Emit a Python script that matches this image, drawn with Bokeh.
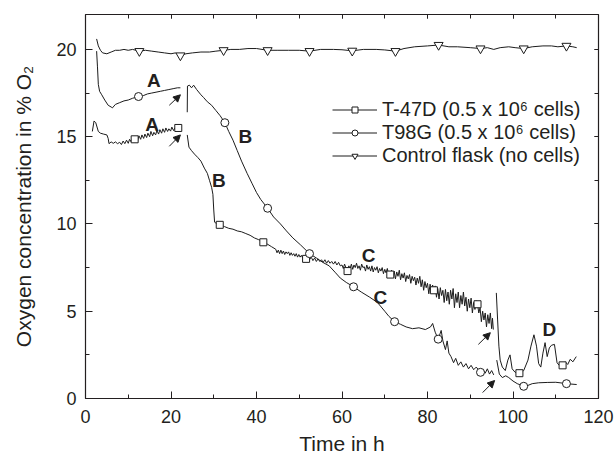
from bokeh.plotting import figure
from bokeh.models import (LinearAxis, Range1d, Legend, LegendItem, Label, Arrow,
                          NormalHead, FixedTicker, CustomJSTickFormatter)
from bokeh.embed import file_html
from bokeh.resources import INLINE

nan = float("nan")

# ---------------- data ----------------
# T-47D (0.5 x 10^6 cells) - line (NaN = gap where medium was changed)
t47_x = [1.6, 2.0, 2.4, 3.0, 3.5, 4.2, 5.0, 5.3, 5.5, 6.0, 6.5, 7.0, 7.5, 8.0, 8.4, 8.8, 9.2, 9.6, 10.0, 10.3,
         10.7, 11.0, 11.5, 11.8, 12.2, 12.5, 12.9, 13.2, 13.6, 13.9, 14.3, 14.6, 15.0, 15.3, 15.7, 16.0,
         16.4, 16.7, 17.1, 17.4, 17.8, 18.1, 18.5, 18.8, 19.2, 19.5, 19.9, 20.2, 20.6, 20.9, 21.3, 21.7,
         nan,
         23.8, 24.2, 24.8, 25.5, 26.3, 27.0, 27.8, 28.5, 29.0, 29.5, 29.8, 30.0, 30.2, 30.8, 31.4, 32.5,
         33.5, 34.5, 35.5, 36.5, 37.5, 38.5, 39.5, 40.5, 41.6, 42.5, 43.5, 44.5, 44.8, 45.1, 45.4, 45.7,
         46.0, 46.3, 46.6, 46.9, 47.2, 47.5, 47.8, 48.1, 48.4, 48.7, 49.0, 49.3, 49.6, 49.9, 50.2, 50.5,
         50.8, 51.1, 51.6, 52.0, 52.4, 52.8, 53.2, 53.6, 54.0, 54.4, 54.8, 55.2, 55.6, 56.0, 56.4, 56.8,
         57.2, 57.6, 58.0, 58.4, 58.8, 59.2, 59.6,
         60.0, 60.3, 60.6, 60.9, 61.3, 61.6, 61.9, 62.2, 62.5, 62.8, 63.1, 63.4, 63.7, 64.0, 64.3, 64.6,
         64.9, 65.2, 65.5, 65.8, 66.1, 66.4, 66.7, 67.0, 67.3, 67.6, 67.9, 68.2, 68.5, 68.8, 69.1, 69.4,
         69.7, 70.0, 70.3, 70.6, 70.9, 71.3, 71.6, 71.9, 72.2, 72.5, 72.8, 73.1, 73.4, 73.7, 74.0, 74.3,
         74.6, 74.9, 75.2, 75.5, 75.8, 76.1, 76.4, 76.7, 77.0, 77.3, 77.6, 77.9, 78.2, 78.5, 78.8, 79.1,
         79.4, 79.7, 80.0, 80.3, 80.6, 80.9, 81.2, 81.5, 81.8, 82.1, 82.4, 82.7, 83.0, 83.3, 83.6, 83.9,
         84.2, 84.5, 84.8, 85.1, 85.4, 85.7, 86.0, 86.3, 86.6, 86.9, 87.2, 87.5, 87.8, 88.1, 88.4, 88.7,
         89.0, 89.3, 89.6, 89.9, 90.2, 90.5, 90.8, 91.1, 91.4, 91.7, 92.0, 92.3, 92.6, 92.9, 93.2, 93.5,
         93.8, 94.1, 94.4, 94.7, 95.0, 95.2, 95.4,
         nan,
         96.1, 96.4, 96.7, 97.0, 97.5, 98.2, 98.8, 99.3, 99.8, 100.5, 101.5, 102.5, 103.5, 104.2, 104.9,
         105.5, 106.0, 106.5, 107.0, 107.5, 108.0, 108.5, 109.0, 109.7, 110.3, 110.8, 111.6, 112.2,
         112.8, 113.4, 114.0, 114.8]
t47_y = [15.3, 15.9, 15.8, 15.3, 15.2, 15.15, 15.1, 14.9, 14.6, 14.7, 14.62, 14.7, 14.6, 14.68, 14.55, 14.75,
         14.6, 14.8, 14.62, 14.85, 14.7, 14.9, 14.82, 14.95, 14.78, 15.05, 14.85, 15.1, 14.9, 15.15, 14.95,
         15.2, 15.0, 15.3, 15.05, 15.25, 15.1, 15.35, 15.15, 15.4, 15.2, 15.45, 15.25, 15.5, 15.3, 15.45,
         15.32, 15.55, 15.35, 15.5, 15.4, 15.5,
         nan,
         15.1, 14.4, 14.2, 14.0, 13.8, 13.6, 13.2, 12.9, 12.5, 12.1, 11.7, 10.8, 10.1, 10.0, 9.95, 9.85,
         9.75, 9.7, 9.6, 9.55, 9.45, 9.35, 9.2, 9.1, 9.0, 8.85, 8.7, 8.55, 8.35, 8.5, 8.3, 8.5,
         8.3, 8.45, 8.25, 8.4, 8.3, 8.4, 8.2, 8.35, 8.2, 8.3, 8.15, 8.3, 8.1, 8.25, 8.1, 8.2,
         8.05, 8.15, 8.0, 8.1, 7.95, 8.1, 7.9, 8.05, 7.85, 8.0, 7.85, 7.95, 7.8, 7.95, 7.75, 7.9,
         7.75, 7.85, 7.7, 7.85, 7.65, 7.8, 7.6,
         7.65, 7.45, 7.7, 7.5, 7.35, 7.6, 7.45, 7.7, 7.4, 7.65, 7.5, 7.75, 7.45, 7.6, 7.35, 7.7,
         7.5, 7.55, 7.3, 7.65, 7.4, 7.55, 7.3, 7.6, 7.25, 7.5, 7.35, 7.55, 7.2, 7.45, 7.3, 7.5,
         7.15, 7.4, 7.2, 7.45, 7.1, 7.1, 7.35, 6.95, 7.3, 6.85, 7.25, 7.0, 7.35, 6.8, 7.15, 6.9,
         7.2, 6.7, 7.05, 6.85, 7.1, 6.6, 7.0, 6.75, 6.95, 6.5, 6.9, 6.6, 7.0, 6.4, 6.8, 6.2,
         6.7, 6.35, 6.6, 6.0, 6.55, 6.25, 6.5, 6.2, 6.45, 5.8, 6.3, 5.7, 6.35, 5.9, 6.2, 5.5,
         6.25, 5.6, 6.1, 5.4, 6.2, 5.7, 6.3, 5.2, 6.0, 5.5, 6.1, 5.2, 5.9, 5.4, 6.1, 5.3,
         5.8, 5.0, 5.7, 5.2, 5.75, 4.9, 5.5, 5.1, 5.6, 5.4, 4.9, 5.2, 4.4, 5.0, 4.5, 4.9,
         4.1, 4.8, 4.3, 4.9, 4.0, 4.6, 3.95,
         nan,
         6.05, 4.5, 3.0, 2.2, 1.8, 1.6, 2.2, 2.5, 1.7, 1.5, 1.43, 1.6, 2.2, 3.0, 3.65, 3.0, 2.0, 1.8,
         2.6, 3.2, 2.4, 2.9, 3.05, 3.1, 2.05, 1.9, 1.9, 2.1, 1.95, 2.25, 2.1, 2.4]
t47_mx = [11.5, 21.7, 31.4, 41.6, 51.6, 61.3, 71.3, 81.5, 91.7, 101.5, 111.6]
t47_my = [14.85, 15.5, 9.95, 8.95, 8.0, 7.3, 7.1, 6.2, 5.4, 1.45, 1.9]

# T98G (0.5 x 10^6 cells)
t98_x = [2.6, 2.8, 3.0, 3.3, 3.8, 4.5, 5.3, 6.0, 6.3, 7.0, 8.0, 9.0, 10.0, 11.0, 12.4, 13.5, 14.5, 15.5,
         16.5, 17.5, 18.5, 19.5, 20.5, 21.5, 22.2,
         nan,
         23.8, 23.85, 24.3, 24.8, 25.3, 26.0, 27.0, 27.6, 28.5, 29.5, 30.5, 31.5, 32.6, 33.5, 34.5, 35.5,
         36.5, 37.8, 39.0, 40.0, 41.0, 42.6, 44.0, 45.6, 47.0, 48.5, 50.3, 52.4, 54.0, 55.5, 57.0, 58.5,
         59.6, 61.0, 62.7, 64.5, 66.5, 68.3, 70.0, 71.0, 72.3, 73.7, 75.0, 76.5, 78.0, 79.5, 80.7, 81.2,
         81.8, 82.5, 83.2, 83.6, 84.2, 84.6, 85.0, 85.5, 86.1, 86.6, 87.2, 87.8, 88.4, 89.0, 89.6, 90.2,
         90.8, 91.4, 92.4, 93.0, 93.5, 94.0, 94.5, 95.0, 95.5,
         nan,
         96.2, 96.8, 97.5, 98.3, 99.0, 100.0, 101.0, 102.5, 103.5, 104.5, 106.0, 108.0, 110.0, 111.0,
         112.5, 114.9]
t98_y = [19.9, 19.0, 18.0, 17.6, 17.4, 17.1, 16.8, 16.7, 16.65, 16.85, 16.95, 17.05, 17.1, 17.2, 17.3,
         17.35, 17.45, 17.5, 17.55, 17.6, 17.65, 17.7, 17.75, 17.8, 17.8,
         nan,
         16.4, 17.9, 17.95, 17.8, 17.95, 17.7, 17.4, 17.25, 17.0, 16.8, 16.5, 16.2, 15.8, 15.3, 14.8,
         14.2, 13.6, 12.9, 12.3, 11.8, 11.4, 10.9, 10.4, 10.0, 9.6, 9.2, 8.8, 8.3, 8.05, 7.8, 7.6, 7.2,
         6.9, 6.65, 6.4, 6.1, 5.8, 5.5, 5.0, 4.7, 4.4, 4.25, 4.1, 4.0, 4.05, 3.95, 4.1, 4.3, 3.8, 3.4,
         3.9, 3.3, 2.8, 3.3, 2.6, 2.4, 2.05, 2.3, 1.9, 2.1, 1.8, 2.0, 1.7, 1.9, 1.65, 1.8, 1.5, 1.65, 1.45,
         1.7, 1.4, 1.6, 1.35,
         nan,
         2.2, 1.4, 1.2, 1.3, 1.2, 1.0, 0.85, 0.7, 0.75, 0.85, 0.9, 0.92, 0.93, 0.9, 0.85, 0.8]
t98_mx = [12.4, 32.6, 42.6, 52.4, 62.7, 72.3, 82.5, 92.4, 102.5, 112.5]
t98_my = [17.3, 15.8, 10.9, 8.3, 6.4, 4.4, 3.4, 1.5, 0.7, 0.85]

# Control flask (no cells)
ctl_x = [2.6, 3.0, 3.5, 4.0, 5.0, 6.0, 7.0, 8.0, 9.0, 10.0, 11.0, 12.6, 14.0, 15.5, 17.0, 18.5, 20.0, 21.0,
         22.2, 23.5, 25.0, 27.0, 29.0, 30.5, 32.3, 34.0, 36.0, 38.0, 40.0, 42.6, 45.0, 47.5, 50.0, 52.4,
         55.0, 58.0, 60.0, 62.4, 65.0, 68.0, 70.0, 72.5, 74.5, 77.0, 80.0, 82.6, 85.0, 87.0, 90.0, 92.4,
         94.0, 95.5, 97.0, 99.0, 100.5, 102.5, 104.5, 107.0, 109.0, 110.5, 112.5, 114.0, 114.9]
ctl_y = [20.6, 20.2, 19.95, 19.8, 19.75, 19.85, 19.95, 19.95, 20.0, 19.95, 20.0, 19.9, 19.95, 19.9, 19.85,
         19.8, 19.75, 19.8, 19.65, 19.75, 19.8, 19.85, 19.85, 19.9, 19.95, 20.0, 20.0, 20.05, 20.05, 19.95,
         19.95, 19.95, 19.95, 19.9, 20.0, 20.0, 19.98, 19.92, 20.0, 20.0, 19.97, 19.9, 20.05, 20.15, 20.2,
         20.25, 20.15, 20.15, 20.1, 20.05, 20.1, 20.0, 20.1, 20.15, 20.1, 20.05, 20.15, 20.2, 20.2, 20.15,
         20.2, 20.15, 20.1]
ctl_mx = [12.6, 22.2, 32.3, 42.6, 52.4, 62.4, 72.5, 82.6, 92.4, 102.5, 112.5]
ctl_my = [19.9, 19.65, 19.95, 19.95, 19.9, 19.92, 19.9, 20.25, 20.05, 20.05, 20.2]

series_names = ["T-47D (0.5 x 10\u2076 cells)", "T98G (0.5 x 10\u2076 cells)", "Control flask (no cells)"]

# phase labels and arrows (medium changes)
phase_text = ["A", "A", "B", "B", "C", "C", "D"]
phase_x = [16.0, 15.6, 37.4, 31.2, 66.2, 69.0, 108.5]
phase_y = [18.2, 15.7, 15.0, 12.5, 8.2, 5.8, 3.95]
arrow_x0 = [19.6, 19.6, 91.9, 92.9]
arrow_y0 = [16.8, 14.45, 3.1, 0.34]
arrow_x1 = [22.2, 22.2, 94.7, 95.7]
arrow_y1 = [17.4, 15.1, 3.77, 1.03]

x_ticks = [0, 20, 40, 60, 80, 100, 120]
x_minor = [0, 10, 20, 30, 40, 50, 60, 70, 80, 90, 100, 110, 120]
y_ticks = [0, 5, 10, 15, 20]
y_minor = [0, 2.5, 5, 7.5, 10, 12.5, 15, 17.5, 20]

# ---------------- plot ----------------
INK = "#231f20"
LINE = "#1c1c1c"
FONT = "Liberation Sans"

p = figure(width=615, height=457, output_backend="svg", toolbar_location=None,
           x_range=Range1d(0, 120), y_range=Range1d(0, 22),
           min_border_left=85, min_border_right=17, min_border_top=14, min_border_bottom=58,
           x_axis_label="Time in h", y_axis_label="Oxygen concentration in % O\u2082")
p.grid.visible = False
p.outline_line_color = None
p.background_fill_color = "white"
p.border_fill_color = "white"

def style_axis(ax, labels=True, major=7, minor=4):
    ax.axis_line_color = INK
    ax.axis_line_width = 1.2
    ax.major_tick_line_color = INK
    ax.minor_tick_line_color = INK
    ax.major_tick_in = major
    ax.major_tick_out = 0
    ax.minor_tick_in = minor
    ax.minor_tick_out = 0
    ax.major_label_text_font = FONT
    ax.major_label_text_color = INK
    ax.major_label_text_font_size = "18px"
    ax.axis_label_text_font = FONT
    ax.axis_label_text_color = INK
    ax.axis_label_text_font_style = "normal"
    ax.axis_label_text_font_size = "21px"
    if not labels:
        ax.formatter = CustomJSTickFormatter(code="return ''")
        ax.major_label_standoff = 0

xb = p.xaxis[0]
yl = p.yaxis[0]
xb.ticker = FixedTicker(ticks=x_ticks, minor_ticks=x_minor)
yl.ticker = FixedTicker(ticks=y_ticks, minor_ticks=y_minor)
style_axis(xb)
style_axis(yl)
xb.major_label_standoff = 11
xb.axis_label_standoff = 6
yl.major_label_standoff = 9
yl.axis_label_standoff = 18

xt = LinearAxis(ticker=FixedTicker(ticks=x_ticks, minor_ticks=x_minor))
yr = LinearAxis(ticker=FixedTicker(ticks=y_ticks, minor_ticks=y_minor))
style_axis(xt, labels=False, major=4, minor=4)
style_axis(yr, labels=False, major=4, minor=4)
p.add_layout(xt, "above")
p.add_layout(yr, "right")

l1 = p.line(t47_x, t47_y, line_color=LINE, line_width=1)
l2 = p.line(t98_x, t98_y, line_color=LINE, line_width=1)
l3 = p.line(ctl_x, ctl_y, line_color=LINE, line_width=1)
m1 = p.scatter(t47_mx, t47_my, marker="square", size=7, fill_color="white", line_color=LINE, line_width=1)
m2 = p.scatter(t98_mx, t98_my, marker="circle", size=8, fill_color="white", line_color=LINE, line_width=1)
m3 = p.scatter(ctl_mx, ctl_my, marker="inverted_triangle", size=9, fill_color="white", line_color=LINE, line_width=1)

legend = Legend(items=[LegendItem(label=series_names[0], renderers=[l1, m1]),
                       LegendItem(label=series_names[1], renderers=[l2, m2]),
                       LegendItem(label=series_names[2], renderers=[l3, m3])],
                location=(247, 231), padding=0, margin=0, spacing=-1,
                glyph_width=45, glyph_height=15, label_height=23, label_standoff=5,
                label_text_font=FONT, label_text_font_size="20px", label_text_color=INK,
                background_fill_alpha=0, border_line_color=None)
p.add_layout(legend)

for t, x, y in zip(phase_text, phase_x, phase_y):
    p.add_layout(Label(x=x, y=y, text=t, text_font=FONT, text_font_size="19px",
                       text_font_style="bold", text_color=INK, text_align="center",
                       text_baseline="middle"))

for xa, ya, xe, ye in zip(arrow_x0, arrow_y0, arrow_x1, arrow_y1):
    p.add_layout(Arrow(x_start=xa, y_start=ya, x_end=xe, y_end=ye, line_color=LINE, line_width=1,
                       end=NormalHead(size=7, fill_color=LINE, line_color=LINE)))

open("out.html", "w").write(file_html(p, INLINE))
